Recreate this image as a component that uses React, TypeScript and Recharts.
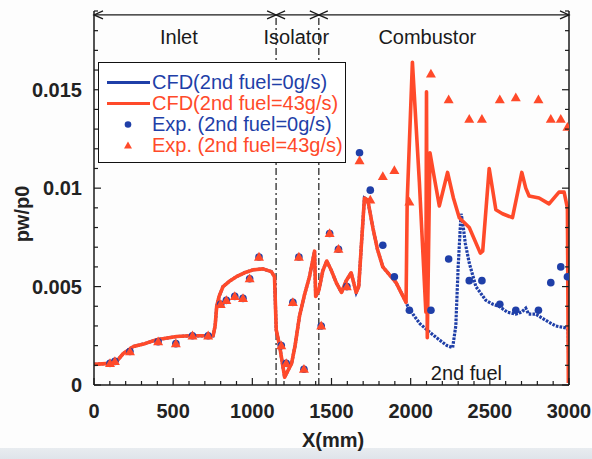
import React from 'react';
import { ComposedChart, Line, Scatter, XAxis, YAxis, ReferenceLine, ReferenceDot, Legend } from 'recharts';

// CFD, 2nd fuel = 43 g/s  (x in mm, pw/p0)
const cfd43X = [0, 100, 143, 185, 248, 320, 395, 521, 605, 752, 765, 775, 790, 815, 860, 899, 950, 1004, 1067, 1120, 1140, 1151, 1172, 1204, 1248, 1270, 1298, 1330, 1361, 1393, 1400, 1420, 1445, 1470, 1500, 1530, 1563, 1593, 1624, 1656, 1672, 1687, 1708, 1729, 1761, 1790, 1824, 1908, 1971,
  1978, 2011, 2055, 2096, 2100, 2105, 2122, 2150, 2181, 2233, 2270, 2307, 2370, 2440, 2455, 2496, 2538, 2580, 2643, 2702, 2727, 2748, 2811, 2874, 2937, 2969, 2990, 2996];
const cfd43Y = [0.00105, 0.0011, 0.0012, 0.0016, 0.00195, 0.0021, 0.0023, 0.00246, 0.0025, 0.0025, 0.003, 0.004, 0.0045, 0.005, 0.0053, 0.0055, 0.0057, 0.00585, 0.0059, 0.00576, 0.0055, 0.0028, 0.002, 0.0004, 0.0011, 0.002, 0.0035, 0.0046, 0.0055, 0.0068, 0.0045, 0.0048, 0.0058, 0.0063, 0.0058, 0.0052, 0.0047, 0.0053, 0.0057, 0.0047, 0.005, 0.0069, 0.0095, 0.0094, 0.008, 0.0069, 0.006, 0.0052, 0.0042,
  0.0093, 0.0164, 0.0103, 0.0037, 0.0149, 0.0024, 0.0118, 0.0105, 0.0091, 0.0108, 0.0095, 0.0085, 0.008, 0.0067, 0.0068, 0.011, 0.0089, 0.0087, 0.0085, 0.0108, 0.01, 0.0096, 0.0095, 0.0092, 0.0098, 0.0098, 0.009, 0.0001];

// CFD, 2nd fuel = 0 g/s: same as above up to 1971 mm, then its own tail
const sharedCount = 49;
const cfd0TailX = [1982, 2023, 2060, 2118, 2180, 2230, 2265, 2285, 2300, 2318, 2328, 2345, 2370, 2412, 2475, 2520, 2559, 2610, 2664, 2700, 2727, 2745, 2790, 2850, 2916, 2980, 2995, 3000];
const cfd0TailY = [0.004, 0.0035, 0.0031, 0.0027, 0.0023, 0.002, 0.0019, 0.003, 0.006, 0.0087, 0.0083, 0.0072, 0.0062, 0.005, 0.0043, 0.0041, 0.004, 0.0037, 0.0036, 0.0037, 0.0039, 0.0036, 0.0036, 0.0033, 0.003, 0.0029, 0.0028, 0.0002];

// Experiments
const expX = [101, 132, 227, 405, 517, 622, 721, 800, 836, 889, 941, 983, 1042, 1183, 1214, 1256, 1294, 1326, 1435, 1488, 1544, 1597, 1677, 1745, 1824, 1897, 1992, 2128, 2240, 2370, 2450, 2563, 2664, 2807, 2885, 2948, 2990];
const exp0Y = [0.0011, 0.0012, 0.0017, 0.0022, 0.0021, 0.0025, 0.0025, 0.0041, 0.0043, 0.0045, 0.0044, 0.0054, 0.0065, 0.002, 0.0011, 0.0042, 0.0065, 0.0008, 0.003, 0.0077, 0.0069, 0.005, 0.0118, 0.0099, 0.0071, 0.0055, 0.0038, 0.0038, 0.0064, 0.0053, 0.0053, 0.0041, 0.0038, 0.0038, 0.0052, 0.006, 0.0055];
const exp43Y = [0.0011, 0.0012, 0.0017, 0.0022, 0.0021, 0.0025, 0.0025, 0.0041, 0.0043, 0.0045, 0.0044, 0.0054, 0.0065, 0.002, 0.0011, 0.0042, 0.0065, 0.0008, 0.003, 0.0077, 0.0069, 0.005, 0.0114, 0.0094, 0.0106, 0.0109, 0.0093, 0.0158, 0.0145, 0.0135, 0.0135, 0.0145, 0.0146, 0.0145, 0.0135, 0.0135, 0.0131];

const seriesNames = ['CFD(2nd fuel=0g/s)', 'CFD(2nd fuel=43g/s)', 'Exp. (2nd fuel=0g/s)', 'Exp. (2nd fuel=43g/s)'];

// sections along the duct
const sectionEdges = [0, 1150, 1420, 3000];
const sectionNames = ['Inlet', 'Isolator', 'Combustor'];
const sectionLabelX = [536, 1278, 2105];

const xMajorTicks = [0, 500, 1000, 1500, 2000, 2500, 3000];
const yMajorTicks = [0, 0.005, 0.01, 0.015];
const yTickLabels = ['0', '0.005', '0.01', '0.015'];
const xMinorTicks = Array.from({ length: 31 }, (_, i) => i * 100);
const yMinorTicks = Array.from({ length: 20 }, (_, i) => +(i * 0.001).toFixed(3));

const BLUE = '#1f3fa8';
const RED = '#ff4a2a';
const AXIS = '#1a1a1a';
const FONT = '"Liberation Sans", Arial, Helvetica, sans-serif';

const zip = (xs: number[], ys: number[]) => xs.map((x, i) => ({ x, y: ys[i] }));
const cfd43 = zip(cfd43X, cfd43Y);
const cfd0 = [...cfd43.slice(0, sharedCount), ...zip(cfd0TailX, cfd0TailY)];
const exp0 = zip(expX, exp0Y);
const exp43 = zip(expX, exp43Y);

const XTick = (props: any) => {
  const { x, y, payload } = props;
  const major = xMajorTicks.includes(payload.value);
  return (
    <g>
      <line x1={x} x2={x} y1={y} y2={y - (major ? 7 : 4)} stroke={AXIS} strokeWidth={1.2} />
      {major && (
        <text x={x} y={y + 33} textAnchor="middle" fontSize={20} fontWeight="bold" fontFamily={FONT} fill="#222">
          {payload.value}
        </text>
      )}
    </g>
  );
};

const majorIndex = (v: number) => yMajorTicks.findIndex((t) => Math.abs(t - v) < 1e-9);

const LeftTick = (props: any) => {
  const { x, y, payload } = props;
  const idx = majorIndex(payload.value);
  return (
    <g>
      <line x1={x} x2={x + (idx >= 0 ? 7 : 4)} y1={y} y2={y} stroke={AXIS} strokeWidth={1.2} />
      {idx >= 0 && (
        <text x={x - 12} y={y + 7} textAnchor="end" fontSize={20} fontWeight="bold" fontFamily={FONT} fill="#222">
          {yTickLabels[idx]}
        </text>
      )}
    </g>
  );
};

const RightTick = (props: any) => {
  const { x, y, payload } = props;
  const idx = majorIndex(payload.value);
  return <line x1={x} x2={x - (idx >= 0 ? 7 : 4)} y1={y} y2={y} stroke={AXIS} strokeWidth={1.2} />;
};

const ArrowLine = (p: any) => {
  const { x1, y1, x2, y2 } = p;
  return (
    <g fill="none" stroke={AXIS} strokeWidth={1.3}>
      <line x1={x1} y1={y1} x2={x2} y2={y2} />
      <path d={`M${x1 + 9},${y1 - 4} L${x1},${y1} L${x1 + 9},${y1 + 4}`} />
      <path d={`M${x2 - 9},${y2 - 4} L${x2},${y2} L${x2 - 9},${y2 + 4}`} />
    </g>
  );
};

const Dot = (p: any) => <circle cx={p.cx} cy={p.cy} r={3.8} fill={BLUE} />;
const Tri = (p: any) => (
  <path d={`M${p.cx},${p.cy - 5.2} L${p.cx + 5},${p.cy + 3.6} L${p.cx - 5},${p.cy + 3.6} Z`} fill={RED} />
);

const LegendBox = () => {
  const colors = [BLUE, RED, BLUE, RED];
  return (
    <div style={{ position: 'relative', width: '100%', height: '100%' }}>
      {seriesNames.map((name, i) => (
        <div
          key={name}
          style={{ position: 'absolute', left: 0, top: 9 + i * 21, height: 21, display: 'flex', alignItems: 'center' }}
        >
          <svg width={53} height={21}>
            {i < 2 && <line x1={8} x2={51} y1={10.5} y2={10.5} stroke={colors[i]} strokeWidth={3} />}
            {i === 2 && <circle cx={29} cy={10.5} r={3.3} fill={BLUE} />}
            {i === 3 && <path d="M29,6.5 L33,13.5 L25,13.5 Z" fill={RED} />}
          </svg>
          <span style={{ color: colors[i], fontSize: 20, fontFamily: FONT, lineHeight: '21px', whiteSpace: 'nowrap' }}>
            {name}
          </span>
        </div>
      ))}
    </div>
  );
};

const labelStyle = { fontSize: 20, fontFamily: FONT, fill: '#1a1a1a' };

export default function App() {
  return (
    <div style={{ position: 'fixed', left: 0, top: 0, width: 592, height: 459, background: '#fdfdfd', overflow: 'hidden' }}>
      <div style={{ position: 'absolute', left: 0, top: 448, width: 592, height: 11, background: 'linear-gradient(#e8ecf0, #dfe4ea)' }} />
      <ComposedChart width={592} height={459} margin={{ top: 11, right: 22, bottom: 44, left: 34 }}>
        <XAxis
          dataKey="x"
          type="number"
          domain={[0, 3000]}
          allowDataOverflow
          ticks={xMinorTicks}
          interval={0}
          tickSize={0}
          tickMargin={0}
          tickLine={false}
          tick={XTick}
          height={30}
          axisLine={{ stroke: AXIS, strokeWidth: 1.5 }}
        />
        <YAxis
          yAxisId="l"
          dataKey="y"
          type="number"
          domain={[0, 0.019]}
          allowDataOverflow
          ticks={yMinorTicks}
          interval={0}
          tickSize={0}
          tickMargin={0}
          tickLine={false}
          tick={LeftTick}
          width={60}
          axisLine={{ stroke: AXIS, strokeWidth: 1.5 }}
        />
        <YAxis
          yAxisId="r"
          orientation="right"
          type="number"
          domain={[0, 0.019]}
          allowDataOverflow
          ticks={yMinorTicks}
          interval={0}
          tickSize={0}
          tickMargin={0}
          tickLine={false}
          tick={RightTick}
          width={1}
          axisLine={{ stroke: AXIS, strokeWidth: 1.5 }}
        />
        {sectionNames.map((name, i) => (
          <ReferenceLine
            key={name}
            yAxisId="l"
            segment={[{ x: sectionEdges[i], y: 0.0188 }, { x: sectionEdges[i + 1], y: 0.0188 }]}
            ifOverflow="visible"
            shape={ArrowLine}
          />
        ))}
        {sectionEdges.slice(1, 3).map((x) => (
          <ReferenceLine
            key={x}
            yAxisId="l"
            segment={[{ x, y: 0 }, { x, y: 0.0188 }]}
            stroke={AXIS}
            strokeWidth={1.2}
            strokeDasharray="7 3 2 3"
          />
        ))}
        {sectionNames.map((name, i) => (
          <ReferenceDot
            key={name}
            yAxisId="l"
            x={sectionLabelX[i]}
            y={0.0177}
            r={0}
            stroke="none"
            fill="none"
            label={{ value: name, position: 'center', ...labelStyle }}
          />
        ))}
        <ReferenceDot
          yAxisId="l"
          x={2352}
          y={0.00062}
          r={0}
          stroke="none"
          fill="none"
          label={{ value: '2nd fuel', position: 'center', ...labelStyle }}
        />
        <Line
          yAxisId="l"
          data={cfd0}
          dataKey="y"
          name={seriesNames[0]}
          type="linear"
          stroke={BLUE}
          strokeWidth={3.2}
          strokeDasharray="2.6 1.2"
          dot={false}
          isAnimationActive={false}
        />
        <Line
          yAxisId="l"
          data={cfd43}
          dataKey="y"
          name={seriesNames[1]}
          type="linear"
          stroke={RED}
          strokeWidth={3.6}
          strokeLinejoin="round"
          dot={false}
          isAnimationActive={false}
        />
        <Scatter yAxisId="l" data={exp0} dataKey="y" name={seriesNames[2]} shape={Dot} isAnimationActive={false} />
        <Scatter yAxisId="l" data={exp43} dataKey="y" name={seriesNames[3]} shape={Tri} isAnimationActive={false} />
        <Legend
          layout="vertical"
          align="center"
          verticalAlign="middle"
          content={LegendBox}
          wrapperStyle={{
            position: 'absolute',
            left: 98,
            top: 62,
            width: 248,
            height: 101,
            border: '1.5px solid #111',
            background: '#fff',
            boxSizing: 'border-box',
          }}
        />
      </ComposedChart>
      <svg width={592} height={459} style={{ position: 'absolute', left: 0, top: 0, pointerEvents: 'none' }}>
        <text x={333} y={447} textAnchor="middle" fontSize={20} fontWeight="bold" fontFamily={FONT} fill="#222">
          X(mm)
        </text>
        <text
          x={29}
          y={214}
          transform="rotate(-90 29 214)"
          textAnchor="middle"
          fontSize={20}
          fontWeight="bold"
          fontFamily={FONT}
          fill="#222"
        >
          pw/p0
        </text>
      </svg>
    </div>
  );
}
